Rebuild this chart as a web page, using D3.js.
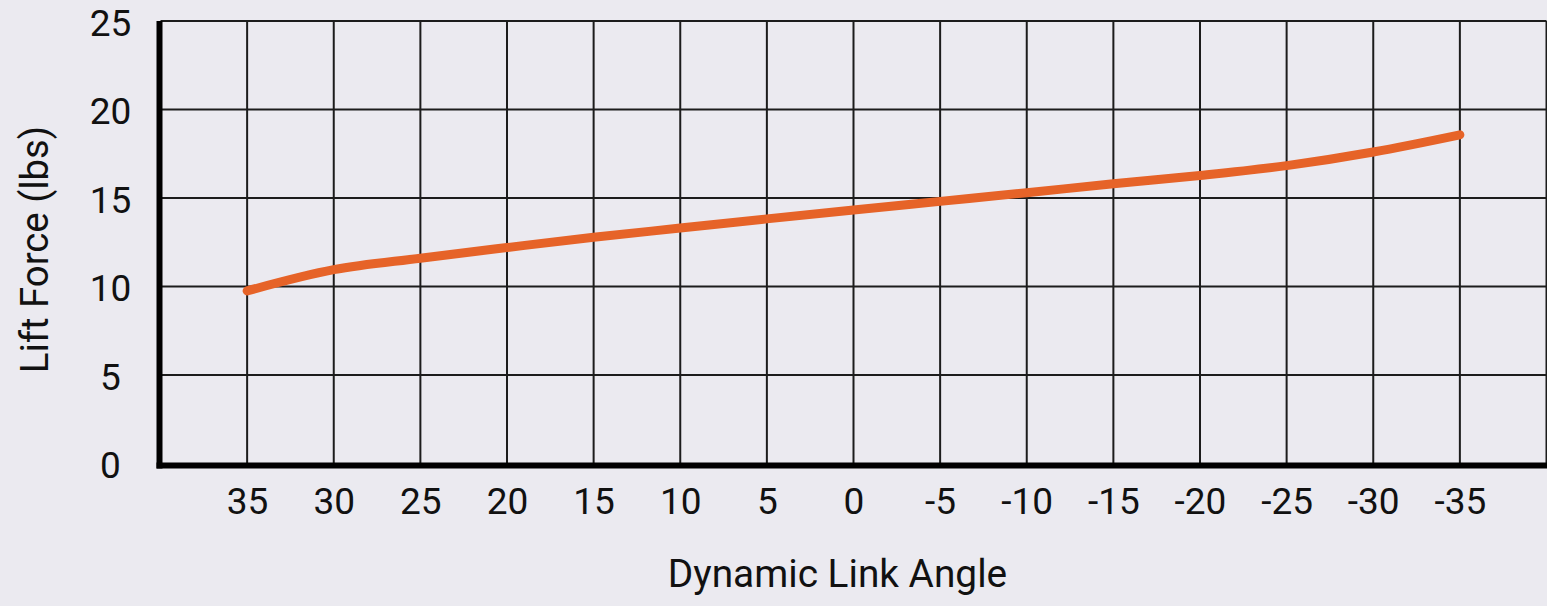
<!DOCTYPE html>
<html>
<head>
<meta charset="utf-8">
<script src="https://cdn.jsdelivr.net/npm/d3@7"></script>
<style>
  html, body { margin: 0; padding: 0; background: #ebeaf0; }
  svg { display: block; }
  text { font-family: Roboto, "Noto Sans", sans-serif; fill: #111; }
</style>
</head>
<body>
<svg id="chart"></svg>
<script>
// link angle (degrees) and lift force (lbs)
let angles = [35, 30, 25, 20, 15, 10, 5, 0, -5, -10, -15, -20, -25, -30, -35];
let liftForce = [9.75, 10.95, 11.6, 12.2, 12.78, 13.3, 13.82, 14.32, 14.81, 15.3, 15.8, 16.27, 16.83, 17.6, 18.57];
let xTicks = [35, 30, 25, 20, 15, 10, 5, 0, -5, -10, -15, -20, -25, -30, -35];
let yTicks = [0, 5, 10, 15, 20, 25];
let xTitle = "Dynamic Link Angle";
let yTitle = "Lift Force (lbs)";

function getConfig() {
  let width = 1547;
  let height = 606;
  let margin = { top: 21, bottom: 142, left: 160.5, right: 0.5 };
  let container = d3.select("#chart")
    .attr("width", width)
    .attr("height", height);
  container.append("rect")
    .attr("width", width)
    .attr("height", height)
    .attr("fill", "#ebeaf0");
  return { width, height, margin, container };
}

function getScales(config) {
  let { width, height, margin } = config;
  let xScale = d3.scaleLinear()
    .domain([40, -40])
    .range([margin.left, width - margin.right]);
  let yScale = d3.scaleLinear()
    .domain([0, 25])
    .range([height - margin.bottom - 0.5, margin.top]);
  return { xScale, yScale };
}

function drawGrid(scales, config) {
  let { xScale, yScale } = scales;
  let { container } = config;
  let grid = container.append("g");

  // vertical lines, plus the right edge
  grid.selectAll(".vline")
    .data(xTicks.concat([-40]))
    .enter()
    .append("line")
    .attr("x1", d => xScale(d))
    .attr("x2", d => xScale(d))
    .attr("y1", yScale(25))
    .attr("y2", yScale(0))
    .attr("stroke", "#1c1c1c")
    .attr("stroke-width", 2);

  grid.selectAll(".hline")
    .data(yTicks.filter(d => d > 0))
    .enter()
    .append("line")
    .attr("x1", xScale(40))
    .attr("x2", xScale(-40))
    .attr("y1", d => yScale(d))
    .attr("y2", d => yScale(d))
    .attr("stroke", "#1c1c1c")
    .attr("stroke-width", 2);
}

function drawLine(scales, config) {
  let { xScale, yScale } = scales;
  let { container } = config;
  let points = angles.map((a, i) => ({ angle: a, force: liftForce[i] }));
  let line = d3.line()
    .x(d => xScale(d.angle))
    .y(d => yScale(d.force))
    .curve(d3.curveCatmullRom.alpha(0.5));
  container.append("path")
    .datum(points)
    .attr("d", line)
    .attr("fill", "none")
    .attr("stroke", "#e66328")
    .attr("stroke-width", 9)
    .attr("stroke-linecap", "round")
    .attr("stroke-linejoin", "round");
}

function drawAxes(scales, config) {
  let { xScale, yScale } = scales;
  let { container, margin, width } = config;
  let axisBase = yScale(0) + 2;

  let axisY = d3.axisLeft(yScale)
    .tickValues(yTicks)
    .tickSize(0)
    .tickFormat(d => String(d));
  let gY = container.append("g")
    .attr("transform", `translate(${margin.left},0)`)
    .call(axisY);
  gY.select(".domain").remove();
  gY.selectAll("text")
    .attr("x", -50)
    .attr("dy", "0.39em")
    .attr("text-anchor", "middle")
    .style("font-size", "37px")
    .style("font-family", "Roboto, sans-serif")
    .attr("fill", "#111");

  let axisX = d3.axisBottom(xScale)
    .tickValues(xTicks)
    .tickSize(0)
    .tickFormat(d => String(d));
  let gX = container.append("g")
    .attr("transform", `translate(0,${axisBase})`)
    .call(axisX);
  gX.select(".domain").remove();
  gX.selectAll("text")
    .attr("y", 22.5)
    .style("font-size", "37px")
    .style("font-family", "Roboto, sans-serif")
    .attr("fill", "#111");

  // thick axis lines
  container.append("line")
    .attr("x1", margin.left - 1)
    .attr("x2", margin.left - 1)
    .attr("y1", yScale(25))
    .attr("y2", axisBase + 3)
    .attr("stroke", "#000")
    .attr("stroke-width", 6);
  container.append("line")
    .attr("x1", margin.left - 4)
    .attr("x2", width)
    .attr("y1", axisBase)
    .attr("y2", axisBase)
    .attr("stroke", "#000")
    .attr("stroke-width", 6);

  container.append("text")
    .attr("x", 837.5)
    .attr("y", 587)
    .attr("text-anchor", "middle")
    .style("font-size", "38.8px")
    .text(xTitle);

  container.append("text")
    .attr("transform", "translate(48,249.5) rotate(-90)")
    .attr("text-anchor", "middle")
    .style("font-size", "38.3px")
    .text(yTitle);
}

let config = getConfig();
let scales = getScales(config);
drawGrid(scales, config);
drawLine(scales, config);
drawAxes(scales, config);
</script>
</body>
</html>
